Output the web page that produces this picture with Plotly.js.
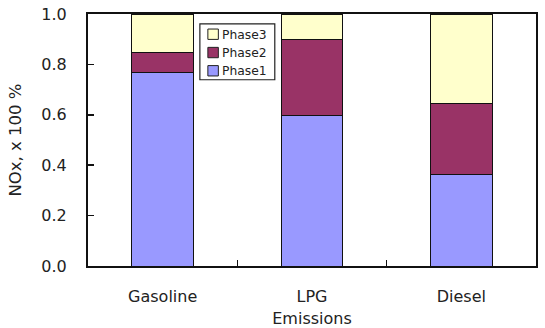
<!DOCTYPE html>
<html>
<head>
<meta charset="utf-8">
<script src="https://cdn.plot.ly/plotly-3.0.1.min.js"></script>
<style>html,body{margin:0;padding:0;background:#fff;}#chart{width:545px;height:328px;}</style>
</head>
<body>
<div id="chart"></div>
<script>
var categories = ["Gasoline", "LPG", "Diesel"];
var seriesNames = ["Phase1", "Phase2", "Phase3"];
var phase1 = [0.767, 0.597, 0.364];
var phase2 = [0.079, 0.302, 0.281];
var phase3 = [0.154, 0.101, 0.355];
var yTickVals = [0, 0.2, 0.4, 0.6, 0.8, 1.0];
var yTickText = ["0.0", "0.2", "0.4", "0.6", "0.8", "1.0"];
var colors = ["#9999FF", "#993366", "#FFFFCC"];

var seriesValues = [phase1, phase2, phase3];
var traces = seriesValues.map(function (vals, i) {
  return {
    type: "bar",
    name: seriesNames[i],
    x: categories,
    y: vals,
    marker: { color: colors[i], line: { color: "#111", width: 1 } },
    showlegend: false,
    hoverinfo: "x+y+name"
  };
});

// Hand-built legend (box, swatches, labels) in paper coordinates, reversed order like the reference
var W = 545, H = 328, ml = 87.5, mr = 9, mt = 13.5, mb = 61.5;
var pw = W - ml - mr, ph = H - mt - mb;
function px(x) { return (x - ml) / pw; }
function py(y) { return 1 - (y - mt) / ph; }
var shapes = [{
  type: "rect", xref: "paper", yref: "paper",
  x0: px(199.5), x1: px(274.5), y0: py(23.5), y1: py(79.5),
  line: { color: "#222", width: 1.2 }, fillcolor: "#fff", layer: "above"
}];
var annotations = [];
var rowY = [33.8, 52.2, 70.5];
for (var k = 0; k < 3; k++) {
  var idx = 2 - k;
  var cy = rowY[k];
  shapes.push({
    type: "rect", xref: "paper", yref: "paper",
    x0: px(207.5), x1: px(218), y0: py(cy - 5.2), y1: py(cy + 5.2),
    line: { color: "#222", width: 1 }, fillcolor: colors[idx], layer: "above"
  });
  annotations.push({
    xref: "paper", yref: "paper", x: px(220), y: py(cy + 0.3),
    xanchor: "left", yanchor: "middle", showarrow: false,
    text: seriesNames[idx],
    font: { family: "DejaVu Sans, sans-serif", size: 12.3, color: "#222" }
  });
}

var layout = {
  width: W, height: H,
  margin: { l: ml, r: mr, t: mt, b: mb, pad: 0 },
  paper_bgcolor: "#fff", plot_bgcolor: "#fff",
  barmode: "stack",
  bargap: 0.585,
  showlegend: false,
  font: { family: "DejaVu Sans, sans-serif", size: 16, color: "#222" },
  xaxis: {
    type: "category",
    range: [-0.5, 2.5],
    showline: true, linecolor: "#111", linewidth: 2, mirror: true,
    ticks: "inside", tickson: "boundaries", ticklen: 6, tickwidth: 1.5, tickcolor: "#111",
    ticklabelstandoff: 15,
    showgrid: false, zeroline: false,
    tickfont: { family: "DejaVu Sans, sans-serif", size: 16, color: "#222" },
    title: { text: "Emissions", standoff: 13, font: { family: "DejaVu Sans, sans-serif", size: 16, color: "#222" } }
  },
  yaxis: {
    range: [0, 1],
    tickvals: yTickVals, ticktext: yTickText,
    showline: true, linecolor: "#111", linewidth: 2, mirror: true,
    ticks: "inside", ticklen: 6, tickwidth: 1.5, tickcolor: "#111",
    ticklabelstandoff: 16,
    showgrid: false, zeroline: false,
    tickfont: { family: "DejaVu Sans, sans-serif", size: 16, color: "#222" },
    title: { text: "NOx, x 100 %", standoff: 16, font: { family: "DejaVu Sans, sans-serif", size: 16.5, color: "#222" } }
  },
  shapes: shapes,
  annotations: annotations
};

Plotly.newPlot("chart", traces, layout, { displayModeBar: false, staticPlot: true });
</script>
</body>
</html>
